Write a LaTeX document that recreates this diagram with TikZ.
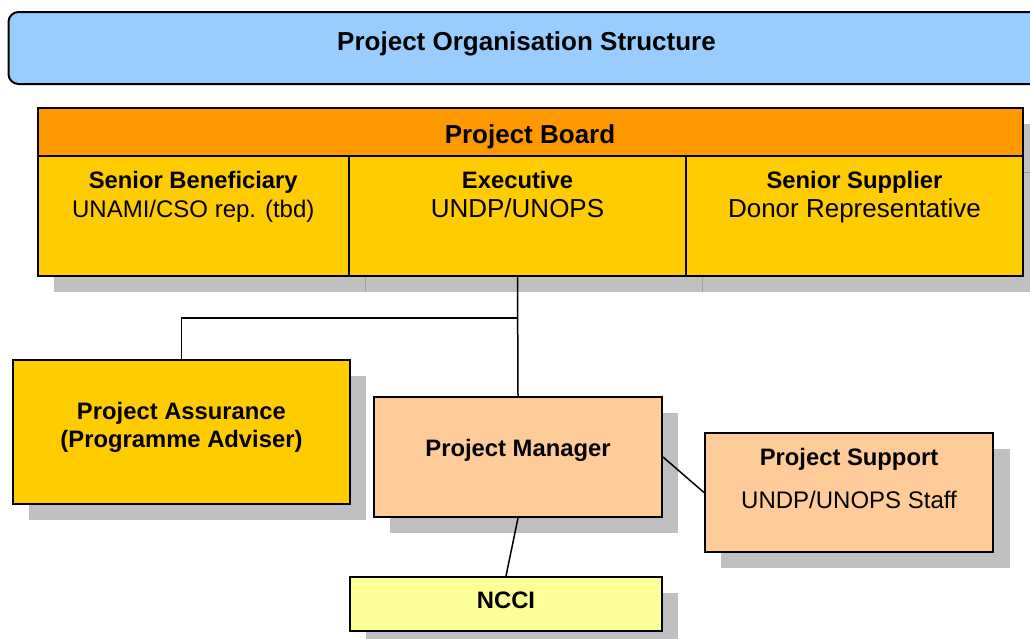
\documentclass[tikz,border=0pt]{standalone}
\usepackage{fontspec}
\setmainfont{Liberation Sans}
\definecolor{titleblue}{HTML}{99CCFF}
\definecolor{boardorange}{HTML}{FF9900}
\definecolor{boardyellow}{HTML}{FFCC00}
\definecolor{peach}{HTML}{FFCC99}
\definecolor{paleyellow}{HTML}{FFFF99}
\definecolor{shadowgray}{HTML}{BFBFBF}
\definecolor{shadowline}{HTML}{A0A0A0}
\begin{document}
\begin{tikzpicture}[x=1pt,y=-1pt,
  box/.style={draw=black,line width=2pt,rectangle,inner sep=0pt},
  shadowbox/.style={fill=shadowgray},
  link/.style={draw=black,line width=1.5pt},
  head/.style={anchor=base,inner sep=0pt,font=\fontsize{23.8}{28}\selectfont\bfseries},
  bighead/.style={anchor=base,inner sep=0pt,font=\fontsize{26}{30}\selectfont\bfseries},
  sub/.style={anchor=base,inner sep=0pt,font=\fontsize{24}{28}\selectfont},
  bigsub/.style={anchor=base,inner sep=0pt,font=\fontsize{26}{30}\selectfont}]

\useasboundingbox (0,0) rectangle (1030,638);

% shadows
\fill[shadowbox] (53.5,124) rectangle (1039,292);
\draw[shadowline,line width=1pt] (365,172) -- (365,292) (702,172) -- (702,292)
  (1023,172) -- (1039,172);
\fill[shadowbox] (29,376) rectangle (366,520);
\fill[shadowbox] (390,413) rectangle (678,533);
\fill[shadowbox] (721,449) rectangle (1010,568);
\fill[shadowbox] (366,593) rectangle (678,647);

% title banner
\draw[fill=titleblue,line width=2pt,rounded corners=10pt] (8.5,12) rectangle (1050,84);
\node[bighead] (title) at (526.5,50) {Project Organisation Structure};

% project board
\node[box,fill=boardorange,minimum width=985.5pt,minimum height=48pt] (board) at (530.25,132) {};
\node[box,fill=boardyellow,minimum width=311.5pt,minimum height=120pt] (benef) at (193.25,216) {};
\node[box,fill=boardyellow,minimum width=337pt,minimum height=120pt] (exec) at (517.5,216) {};
\node[box,fill=boardyellow,minimum width=337pt,minimum height=120pt] (supp) at (854.5,216) {};
\node[bighead] (boardtxt) at (530,143) {Project Board};
\node[head] (benefhd) at (193.25,188.5) {Senior Beneficiary};
\node[sub] (benefsub) at (193.25,217.5) {UNAMI/CSO rep. (tbd)};
\node[head] (exechd) at (517.5,188.5) {Executive};
\node[bigsub] (execsub) at (517.5,217.5) {UNDP/UNOPS};
\node[head] (supphd) at (854.5,188.5) {Senior Supplier};
\node[bigsub] (suppsub) at (854.5,217.5) {Donor Representative};

% lower boxes
\node[box,fill=boardyellow,minimum width=337pt,minimum height=144pt] (pa) at (181.5,432) {};
\node[box,fill=peach,minimum width=288pt,minimum height=120pt] (pm) at (518,457) {};
\node[box,fill=peach,minimum width=288pt,minimum height=119pt] (ps) at (849,492.5) {};
\node[box,fill=paleyellow,minimum width=312pt,minimum height=54pt] (ncci) at (506,604) {};

\node[head] (patxt1) at (181.5,419.5) {Project Assurance};
\node[head] (patxt2) at (181.5,447.5) {(Programme Adviser)};
\node[head] (pmtxt) at (518,456) {Project Manager};
\node[head] (pstxt) at (849,465.5) {Project Support};
\node[sub] (pssub) at (849,508.5) {UNDP/UNOPS Staff};
\node[head] (nccitxt) at (506,608.5) {NCCI};

% connectors
\coordinate (split) at (518,318);
\draw[link] (exec.south) -- (pm.north);
\draw[link] (split) -| (pa.north);
\draw[link] (pm.east) -- (ps.west);
\draw[link] (pm.south) -- (ncci.north);
\end{tikzpicture}
\end{document}
